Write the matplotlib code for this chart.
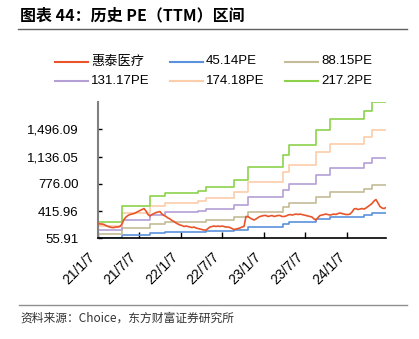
import matplotlib
matplotlib.use('Agg')
import matplotlib.pyplot as plt
from matplotlib.lines import Line2D
import pandas as pd

plt.rcParams['font.family'] = ['Liberation Sans', 'Noto Sans CJK SC']

title = '图表 44：历史 PE（TTM）区间'
source = '资料来源：Choice，东方财富证券研究所'
series_names = ['惠泰医疗', '45.14PE', '88.15PE', '131.17PE', '174.18PE', '217.2PE']
colors = ['#E8552A', '#5B91DC', '#C4BC96', '#B4A0D7', '#FCCDAA', '#8CD24B']

# dates at which each PE-band level starts (last entry = end of data)
step_dates = ['2021-01-07', '2021-04-24', '2021-08-22', '2021-10-27', '2022-03-24',
              '2022-04-25', '2022-08-27', '2022-10-26', '2023-03-31', '2023-04-26',
              '2023-08-21', '2023-10-25', '2024-03-21', '2024-04-24', '2024-06-25']

pe_45 = [55.91, 100.98, 126.75, 136.64, 141.29, 153.07, 171.44, 206.24, 239.96,
         266.55, 308.49, 338.64, 360.58, 385.77]
pe_88 = [109.18, 197.19, 247.53, 266.83, 275.91, 298.92, 334.79, 402.76, 468.61,
         520.53, 602.42, 661.30, 704.14, 753.33]
pe_131 = [162.47, 293.43, 368.33, 397.05, 410.56, 444.80, 498.18, 599.32, 697.30,
          774.56, 896.42, 984.04, 1047.79, 1120.98]
pe_174 = [215.74, 389.64, 489.10, 527.24, 545.18, 590.64, 661.54, 795.83, 925.94,
          1028.53, 1190.35, 1306.70, 1391.35, 1488.54]
pe_217 = [269.02, 485.88, 609.90, 657.46, 679.84, 736.53, 824.93, 992.39, 1154.64,
          1282.57, 1484.34, 1629.43, 1735.00, 1856.10]

# company market value series, sampled evenly from 2021-01-07 to 2024-06-25
company = [251, 245, 245, 238, 225, 212, 205, 198, 198, 205, 205, 212, 245, 304, 337,
           357, 370, 376, 383, 396, 409, 422, 436, 449, 416, 370, 350, 370, 383, 396,
           403, 409, 376, 357, 344, 324, 311, 291, 278, 258, 245, 231, 225, 212, 218,
           212, 205, 198, 205, 192, 185, 179, 172, 165, 165, 185, 205, 212, 218, 212,
           218, 212, 218, 212, 205, 205, 198, 185, 172, 179, 185, 192, 205, 212, 344,
           344, 324, 311, 297, 311, 330, 344, 350, 357, 357, 344, 350, 357, 344, 350,
           357, 357, 344, 344, 350, 363, 370, 363, 370, 376, 370, 376, 370, 363, 357,
           350, 344, 337, 311, 297, 330, 357, 363, 370, 376, 370, 363, 370, 376, 370,
           383, 390, 383, 376, 370, 370, 376, 403, 442, 449, 436, 442, 449, 442, 456,
           475, 495, 515, 548, 568, 521, 475, 456, 449, 462]
company_start = '2021-01-07'
company_end = '2024-06-25'

ytick_values = [55.91, 415.96, 776.00, 1136.05, 1496.09]
ytick_labels = ['55.91', '415.96', '776.00', '1,136.05', '1,496.09']
xtick_dates = ['2021-01-07', '2021-07-07', '2022-01-07', '2022-07-07',
               '2023-01-07', '2023-07-07', '2024-01-07']
xtick_labels = ['21/1/7', '21/7/7', '22/1/7', '22/7/7', '23/1/7', '23/7/7', '24/1/7']

W, H = 419, 339
fig = plt.figure(figsize=(W / 100, H / 100), dpi=100)
ax = fig.add_axes([98 / W, 1 - 238.3 / H, 288 / W, 136.3 / H])

sd = pd.to_datetime(step_dates)
handles = {}
for name, vals, c in zip(series_names[1:], [pe_45, pe_88, pe_131, pe_174, pe_217], colors[1:]):
    h, = ax.step(sd, list(vals) + [vals[-1]], where='post', color=c, lw=1.2, zorder=2)
    handles[name] = h

cd = pd.date_range(company_start, company_end, periods=len(company))
h, = ax.plot(cd, company, color=colors[0], lw=1.2, zorder=3)
handles[series_names[0]] = h

ax.set_xlim(pd.Timestamp(company_start), pd.Timestamp(company_end))
ax.set_ylim(55.91, 1856.14)
ax.set_yticks(ytick_values)
ax.set_yticklabels(ytick_labels, fontsize=9.5)
ax.set_xticks(pd.to_datetime(xtick_dates))
ax.set_xticklabels(xtick_labels, fontsize=10, rotation=45, ha='right', va='top')
ax.tick_params(axis='y', direction='in', length=3, width=1, pad=14, colors='black')
ax.tick_params(axis='x', direction='in', length=4, width=1, pad=8, colors='black')
for s in ['top', 'right']:
    ax.spines[s].set_visible(False)
ax.spines['left'].set_color('#808080')
ax.spines['left'].set_linewidth(1.5)
ax.spines['bottom'].set_color('black')
ax.spines['bottom'].set_linewidth(1.2)

# legend drawn in a 3 x 2 grid as in the reference
leg_rows = [61.5, 80.5]
leg_cols = [55, 170, 285]
for i, name in enumerate(series_names):
    r, c = divmod(i, 3)
    x0 = leg_cols[c]
    y = 1 - leg_rows[r] / H
    fig.add_artist(Line2D([x0 / W, (x0 + 33) / W], [y, y], color=handles[name].get_color(), lw=1.5))
    fig.text((x0 + 36) / W, y, name, fontsize=9.5, ha='left', va='center')

fig.text(20 / W, 1 - 15 / H, title, fontsize=11.5, fontweight='bold', ha='left',
         va='center', family=['Noto Sans CJK SC'])
fig.add_artist(Line2D([18 / W, 407 / W], [1 - 29 / H] * 2, color='#606060', lw=1))
fig.add_artist(Line2D([19 / W, 407 / W], [1 - 305 / H] * 2, color='#909090', lw=1))
fig.text(20 / W, 1 - 318 / H, source, fontsize=8.5, ha='left', va='center',
         color='#333333', family=['Noto Sans CJK SC', 'DejaVu Sans'])

fig.savefig('out.png', dpi=100)
